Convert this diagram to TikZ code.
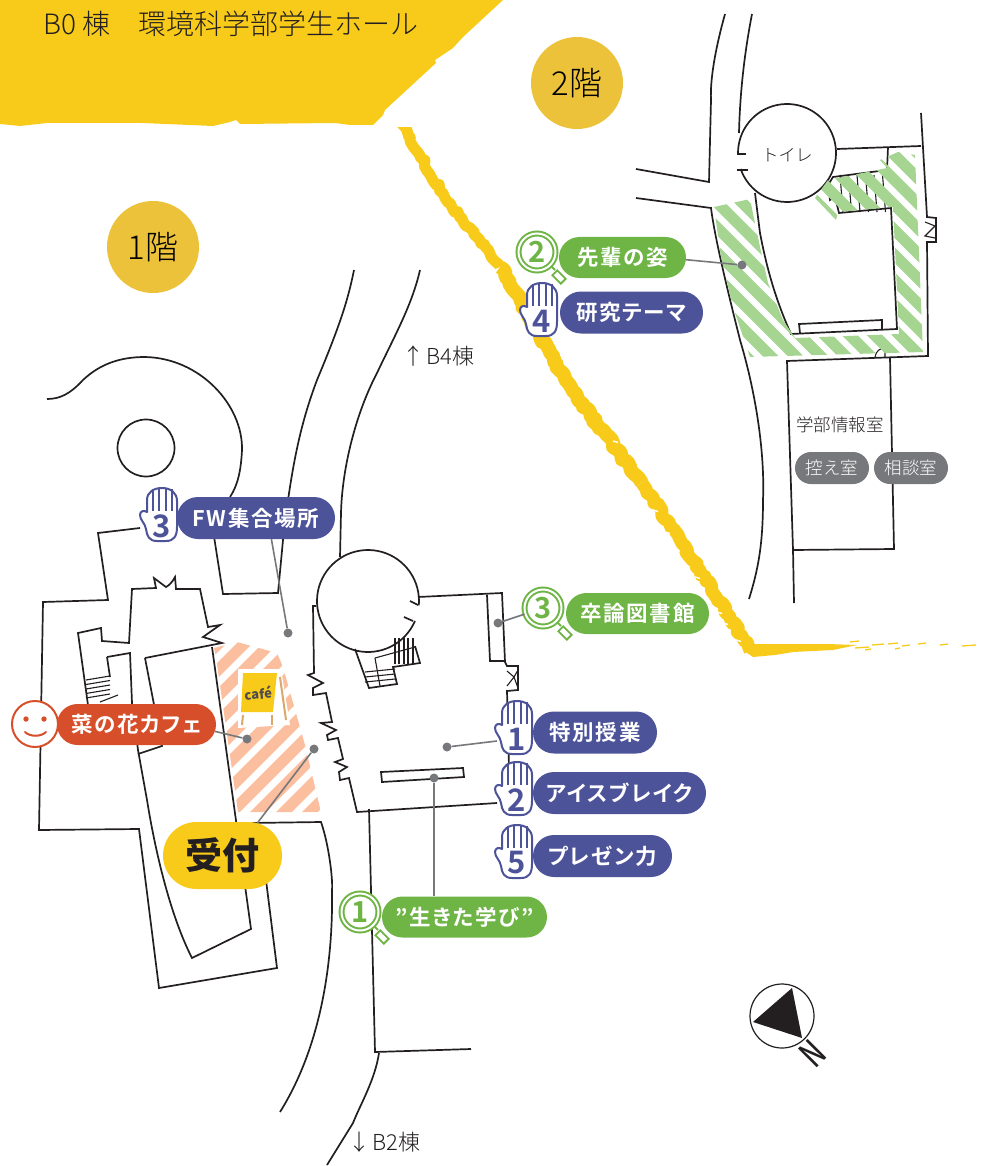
\documentclass[tikz,border=0pt]{standalone}
\usepackage{fontspec}
\usepackage{xcolor}
\usetikzlibrary{shapes.misc,decorations.pathmorphing}
\newfontfamily\jplight{Noto Sans CJK JP Light}
\newfontfamily\jpmid{Noto Sans CJK JP Medium}
\newfontfamily\jpnum{Noto Sans CJK JP Bold}
\newfontfamily\jpbold[RawFeature=+palt,LetterSpace=8]{Noto Sans CJK JP Bold}
\newfontfamily\jpblack{Noto Sans CJK JP Black}
\definecolor{wallink}{HTML}{231F20}
\definecolor{bannerye}{HTML}{F8CB1B}
\definecolor{floorye}{HTML}{EBC23A}
\definecolor{tagblue}{HTML}{4D5399}
\definecolor{taggreen}{HTML}{6FB546}
\definecolor{tagred}{HTML}{D64F2A}
\definecolor{leadgray}{HTML}{77787B}
\definecolor{stripepeach}{HTML}{FBBFA0}
\definecolor{stripegreen}{HTML}{A6D592}
\definecolor{legtan}{HTML}{D9A86C}
\tikzset{
  wall/.style={draw=wallink, line width=1.7, line join=miter},
  thinwall/.style={draw=wallink, line width=1.1},
  brush/.style={draw=bannerye, line join=round, decorate, decoration={random steps, segment length=4, amplitude=2}},
  tag/.style={rounded rectangle, inner sep=0, text=white, font=\jpbold\fontsize{21.5}{21.5}\selectfont},
  bluetag/.style={tag, fill=tagblue, minimum height=42},
  greentag/.style={tag, fill=taggreen, minimum height=41},
  roomtag/.style={tag, fill=leadgray, minimum height=32, minimum width=74, font=\jplight\fontsize{17.5}{17.5}\selectfont},
  floorlabel/.style={circle, fill=floorye, minimum size=92, inner sep=0, font=\jplight\fontsize{33}{33}\selectfont},
  plainlabel/.style={text=wallink, inner sep=0, font=\jplight\fontsize{#1}{#1}\selectfont},
  pindot/.style={circle, fill=leadgray, inner sep=0, minimum size=9},
  leader/.style={draw=leadgray, line width=1.6},
  lensring/.style={circle, draw=taggreen, fill=white, double=white, double distance=2, line width=2, minimum size=37, inner sep=0, text=taggreen, font=\jpnum\fontsize{29}{29}\selectfont},
  lensgrip/.style={rectangle, draw=taggreen, fill=white, line width=1.8, minimum width=12, minimum height=7, inner sep=0, rotate=-45},
  handmark/.pic={
    \draw[fill=white, draw=tagblue, line width=2, line join=round]
      (-15,-3) -- (-15,-15) .. controls (-15,-23) and (-8,-27) .. (0,-27)
      .. controls (9,-27) and (15,-22) .. (15,-14) -- (15,12)
      .. controls (15,21) and (12,26) .. (4,26) -- (-5,26)
      .. controls (-13,26) and (-15,21) .. (-16,14)
      .. controls (-17,8) and (-22,5) .. (-22,0)
      .. controls (-22,-4) and (-18,-5) .. (-15,-3) -- cycle;
    \foreach \fx in {-9,-3,4,10}
      \draw[draw=tagblue, line width=1.5] (\fx,-26) -- (\fx,-4);
    \node[text=tagblue, inner sep=0, font=\jpnum\fontsize{31}{31}\selectfont] (-digit) at (0,11) {#1};
    \coordinate (-west) at (-20,13);
  },
  lensmark/.pic={
    \draw[draw=taggreen, line width=2] (14,14) -- (18,18);
    \node[lensgrip] (-grip) at (22,25) {};
    \node[lensring] (-ring) at (0,0) {#1};
  }
}
\begin{document}
\begin{tikzpicture}[x=1pt,y=-1pt]
  \useasboundingbox (0,0) rectangle (999,1166);

  \fill[bannerye] (0,0) -- (503,0) -- (463,37) -- (453,48) -- (435,60) -- (436,63) -- (385,110)
    -- (383,115) -- (373,125) -- (350,125) -- (335,123) -- (240,124) -- (236,120) -- (230,122)
    -- (213,126) -- (142,123) -- (47,123) -- (20,126) -- (0,124) -- cycle;
  \begin{scope}
    \clip (380,128) rectangle (800,670);
    \draw[brush, line width=11] (398,118) -- (445,198) -- (500,267);
    \draw[brush, line width=14] (500,267) -- (572,390) -- (642,483);
    \draw[brush, line width=13] (642,483) -- (700,570) -- (750,650);
  \end{scope}
  \foreach \sx/\sy in {653/510,665/532,695/577,717/612,723/623,736/640,613/441,560/355}
    \draw[draw=white, line width=1.4] (\sx,\sy) -- ++(5,1.5);
  \fill[bannerye] (742,648) -- (753,644) -- (827,644) -- (857,645) -- (833,650) -- (793,652)
    -- (775,655) -- (753,657) -- (747,653) -- cycle;
  \foreach \sx/\sy/\sl in {855/648/14,872/645/12,888/644/10,902/646/8,918/644/8,940/645/8,962/646/14,865/650/6,850/642/9,895/649/5}
    \draw[draw=bannerye, line width=1.3] (\sx,\sy) -- ++(\sl,-1);

  \draw[wall] (47,399) .. controls (60,399) and (70,394) .. (83,380) .. controls (100,364) and (120,357) .. (145,357)
    .. controls (200,358) and (243,405) .. (242,450) .. controls (241,470) and (238,485) .. (230,497);
  \draw[wall] (146,448) circle (28.5);
  \draw[wall] (354,270) .. controls (348,300) and (340,325) .. (317,380) .. controls (302,420) and (292,460) .. (283,540) -- (278,593) -- (223,594) -- (213,530);
  \draw[wall] (420,270) .. controls (412,305) and (395,335) .. (377,373) .. controls (355,415) and (342,470) .. (341,513) -- (340,557);

  \draw[wall] (140,528) -- (98,533) -- (108,600) -- (43,602) -- (39,830) -- (139,829) -- (159,988) -- (277,968) -- (266,880);
  \draw[wall] (145,658) -- (222,643) -- (203,637) -- (220,625) -- (208,627) -- (200,589) -- (176,589) -- (175,577)
    .. controls (172,583) and (168,586) .. (166,587) .. controls (162,584) and (158,581) .. (154,578) -- (156,588) -- (132,589) -- (129,643)
    -- (102,641) -- (101,628) -- (78,633) -- (88,705);
  \draw[wall] (145,658) -- (162,746) -- (138,754);
  \draw[wall] (107,657) -- (130,653) -- (132,703) -- (138,750) -- (147,800) .. controls (155,850) and (170,915) .. (192,958) -- (251,929) -- (212,647);
  \draw[wall] (107,657) -- (110,677);
  \foreach \ry in {0,4.5,9,13.5,18}
    \draw[thinwall] (86,680+\ry) -- (110,676+\ry);
  \draw[thinwall] (100,702) -- (118,695);
  \draw[wall] (250,823) -- (321,822) .. controls (329,845) and (333,880) .. (332,890) .. controls (333,950) and (325,1040) .. (280,1112);

  \draw[wall] plot[domain=23:365, samples=70] ({368+51*cos(\x)},{601+51*sin(\x)});
  \draw[wall] (413,621) -- (404,617);
  \draw[wall] (418,605) -- (410,601);
  \draw[wall] (418,597) -- (502,593) -- (505,662) -- (507,666) -- (518,666) -- (518,690) -- (507,691) -- (509,767);
  \draw[wall] (497,803) -- (357,812) -- (349,778) -- (340,780) -- (339,772) -- (347,767) -- (335,762) -- (343,759) -- (338,738)
    -- (328,740) -- (327,735) -- (336,730) -- (321,723) -- (332,722) -- (326,693) -- (313,695) -- (313,688) -- (323,683)
    -- (308,675) -- (314,673) -- (313,606) -- (316,606);
  \draw[wall] (487,595) -- (490,661) -- (505,661);
  \draw[thinwall] (507,671) -- (514,677) -- (518,670);
  \draw[thinwall] (507,686) -- (514,677) -- (518,688);
  \draw[wall] (381,772) -- (463,768) -- (464,777) -- (382,782) -- cycle;
  \draw[wall] (355,649) -- (369,688) -- (397,684) -- (393,667) -- (420,663) -- (415,646);
  \draw[thinwall] (375,658) -- (380,686);
  \draw[thinwall] (375,658) -- (415,647);
  \foreach \ry in {0,5,10}
    \draw[thinwall] (365,672+\ry) -- (395,669+\ry);
  \foreach \rx in {395,399,404,408,413}
    \draw[thinwall] (\rx,638) -- (\rx,664);
  \draw[wall] (369,809) -- (375,1052) -- (471,1049);
  \draw[wall] (379,1053) .. controls (375,1080) and (360,1105) .. (353,1123) -- (327,1165);

  \draw[wall] (725,14) .. controls (715,50) and (710,80) .. (711,100) -- (709,182) -- (636,169);
  \draw[wall] (752,14) .. controls (745,50) and (740,90) .. (739,133);
  \draw[wall] plot[domain=-181:161, samples=70] ({787+49*cos(\x)},{153+49*sin(\x)});
  \draw[wall] (737,154) -- (746,154);
  \draw[wall] (737,170) -- (748,170);
  \draw[wall] (636,198) -- (711,208) .. controls (715,240) and (730,300) .. (740,340) .. controls (755,390) and (765,450) .. (763,500)
    .. controls (763,545) and (758,570) .. (749,599);
  \draw[wall] (755,193) -- (760,233) .. controls (768,275) and (778,305) .. (791,334) -- (897,329) -- (891,208) -- (839,213) -- (835,197) -- (830,200) -- (828,185) -- (833,177) -- (887,170) -- (888,147);
  \draw[wall] (837,149) -- (921,146);
  \draw[wall] (921,113) -- (927,217) -- (936,218) -- (936,242) -- (927,242) -- (928,356) -- (787,361) -- (793,550) -- (894,549) -- (890,358);
  \draw[wall] (793,550) -- (794,603);
  \draw[wall] (800,333) -- (799,324) -- (882,320) -- (882,329);
  \draw[thinwall] (875,357) .. controls (876,351) and (880,348) .. (885,348) -- (885,357);
  \draw[thinwall] (925,222) -- (935,226) -- (925,236) -- (935,238);
  \foreach \rx in {840,848.5,857,865.5,874,882.5}
    \draw[thinwall] (\rx,175) -- (\rx+3,212);

  \begin{scope}
    \clip (216,657) -- (214,648) -- (237,642) -- (277,653) -- (283,667) -- (305,745) -- (320,808) -- (320,812) -- (238,812) -- cycle;
    \foreach \k in {-9,...,3}
      \draw[draw=stripepeach, line width=11] (-192+26*\k,1262) -- ++(800,-800);
  \end{scope}
  \begin{scope}
    \clip (714,207) -- (750,199) -- (760,247) -- (768,283) -- (783,320) -- (795,338) -- (899,334) -- (893,207) -- (838,212) -- (836,220)
      -- (815,198) -- (828,180) -- (887,168) -- (880,160) -- (898,152) -- (915,155) -- (923,352) -- (750,357) -- (733,307) -- (721,257) -- cycle;
    \foreach \k in {0,...,20}
      \draw[draw=stripegreen, line width=11] (289.5+25*\k,-100) -- ++(500,500);
  \end{scope}

  \fill[white] (238,669) -- (281,669) -- (290,725) -- (238,728) -- cycle;
  \draw[draw=legtan, line width=2] (243,715) -- (242,725);
  \draw[draw=legtan, line width=2] (272,715) -- (272,725);
  \draw[draw=legtan, line width=2] (280,677) -- (286,720);
  \fill[bannerye] (243,673) -- (277,673) -- (273,712) -- (241,712) -- cycle;
  \node[inner sep=0, rotate=5, text=wallink!80, font=\jpblack\itshape\fontsize{13}{13}\selectfont] (cafesign) at (258,693) {café};

  \node[plainlabel=28, anchor=west] (hallname) at (43,24) {B0 棟　環境科学部学生ホール};
  \node[floorlabel] (floorone) at (153,247) {1階};
  \node[floorlabel] (floortwo) at (577,83) {2階};
  \node[plainlabel=22, anchor=west] (upbuilding) at (402,356) {↑\kern2pt B4棟};
  \node[plainlabel=22, anchor=west] (downbuilding) at (348,1142) {↓\kern2pt B2棟};
  \node[plainlabel=17] (toilet) at (787,155) {トイレ};
  \node[plainlabel=17.5] (inforoom) at (840,425) {学部情報室};

  \node[pindot] (meetdot) at (288,633) {};
  \node[pindot] (cafedot) at (247,739) {};
  \node[pindot] (deskdot) at (314,749) {};
  \node[pindot] (libdot) at (498,623) {};
  \node[pindot] (lecturedot) at (447,747) {};
  \node[pindot] (studydot) at (434,778) {};
  \node[pindot] (seniordot) at (742,265) {};

  \node[bluetag, minimum width=158] (meettag) at (256,518) {FW集合場所};
  \node[tag, fill=tagred, minimum width=159, minimum height=41] (cafetag) at (136.5,724.5) {菜の花カフェ};
  \node[tag, fill=bannerye, minimum width=119, minimum height=67, text=wallink, font=\jpblack\fontsize{37}{37}\selectfont] (desktag) at (222.5,855.5) {受付};
  \node[bluetag, minimum width=124] (lecturetag) at (595,732.5) {特別授業};
  \node[bluetag, minimum width=173] (icetag) at (619.5,793) {アイスブレイク};
  \node[bluetag, minimum width=139] (prestag) at (602.5,856) {プレゼン力};
  \node[greentag, minimum width=165] (studytag) at (464.5,917) {”生きた学び”};
  \node[greentag, minimum width=143] (libtag) at (637.5,613.5) {卒論図書館};
  \node[greentag, minimum width=127] (seniortag) at (622.5,257.5) {先輩の姿};
  \node[bluetag, minimum width=143] (themetag) at (631.5,312.5) {研究テーマ};
  \node[roomtag] (waitroom) at (832,468) {控え室};
  \node[roomtag] (talkroom) at (911,468) {相談室};

  \pic (handthree) at (162,515) {handmark=3};
  \pic (handone) at (517,728) {handmark=1};
  \pic (handtwo) at (517,789) {handmark=2};
  \pic (handfive) at (517,852) {handmark=5};
  \pic (handfour) at (542,310) {handmark=4};
  \pic (lensone) at (360,912) {lensmark=1};
  \pic (lensthree) at (543,608) {lensmark=3};
  \pic (lenstwo) at (537,252) {lensmark=2};

  \draw[leader] (meettag.-54) -- (meetdot);
  \draw[leader] (cafetag.-5) -- (cafedot);
  \draw[leader] (desktag.43) -- (deskdot);
  \draw[leader] (lensthree-ring) -- (libdot);
  \draw[leader] (handone-west) -- (lecturedot);
  \draw[leader] (studytag.north -| studydot) -- (studydot);
  \draw[leader] (seniortag.-2) -- (seniordot);

  \node[circle, draw=tagred, fill=white, line width=2, minimum size=46, inner sep=0] (smileface) at (35,724) {};
  \fill[tagred] (26,719) circle (2.7);
  \fill[tagred] (44,719) circle (2.7);
  \draw[draw=tagred, line width=2, line cap=round] (25,732) .. controls (30,737) and (41,737) .. (46,732);

  \node[circle, draw=wallink, line width=1.2, minimum size=64, inner sep=0] (compass) at (782,1016) {};
  \fill[wallink] (792,988) -- (802,1038) -- (753,1022) -- cycle;
  \node[rotate=45, xscale=0.7, inner sep=0, text=wallink, font=\jpmid\fontsize{36}{36}\selectfont] (northmark) at (813,1054) {N};
\end{tikzpicture}
\end{document}
